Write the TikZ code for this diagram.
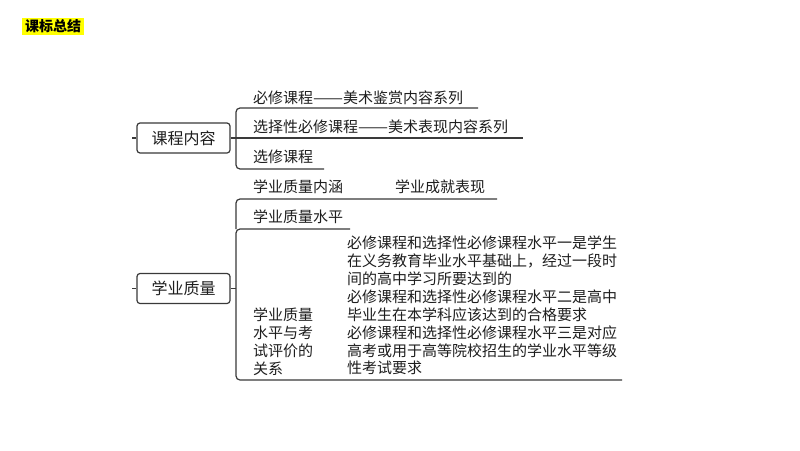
\documentclass[tikz,border=0pt]{standalone}
\usepackage{graphicx}
\usepackage{fontspec}
\setmainfont{Noto Sans CJK SC}
\definecolor{ink}{HTML}{1E1E1E}
\definecolor{linec}{HTML}{3A3A3A}
\definecolor{hl}{HTML}{FFFF00}
\newcommand{\wdash}{\resizebox{2em}{\height}{——}}
\begin{document}
\begin{tikzpicture}[x=1pt,y=-1pt,
  txt/.style={anchor=west,inner sep=0pt,font=\fontsize{15}{17.9}\selectfont,text=ink,align=left},
  rootbox/.style={draw=linec,line width=1.2pt,rounded corners=3pt,minimum width=93pt,minimum height=30pt,inner sep=0pt,font=\fontsize{16}{18}\selectfont,text=ink},
  conn/.style={draw=linec,line width=1.2pt,rounded corners=4pt}]
\useasboundingbox (0,0) rectangle (800,450);
\fill[white] (0,0) rectangle (800,450);
\node[fill=hl,inner xsep=3pt,inner ysep=1.5pt,anchor=west,text=black,font=\bfseries\fontsize{14}{16}\selectfont] (title) at (22,26.5) {课标总结};

% group 1
\node[rootbox] (r1) at (183.5,138) {课程内容};
\coordinate (s1) at (132,138);
\draw[conn] (s1) -- (r1.west);
\coordinate (a1) at (478,108);
\coordinate (a2) at (523,138);
\coordinate (a3) at (324,169);
\coordinate (j1t) at (236,108);
\coordinate (j1b) at (236,169);
\draw[conn] (a1) -- (j1t) -- (j1b) -- (a3);
\draw[conn] (r1.east) -- (a2);
\node[txt] (t1) at (253,98) {必修课程\wdash 美术鉴赏内容系列};
\node[txt] (t2) at (253,127) {选择性必修课程\wdash 美术表现内容系列};
\node[txt] (t3) at (253,157) {选修课程};

% group 2
\node[rootbox] (r2) at (183.5,288.5) {学业质量};
\coordinate (s2) at (132,288.5);
\draw[conn] (s2) -- (r2.west);
\coordinate (b1) at (497,199);
\coordinate (b2) at (350,229);
\coordinate (b3) at (622,380);
\coordinate (j2t) at (236,199);
\coordinate (j2m) at (236,229);
\coordinate (j2c) at (236,288.5);
\coordinate (j2b) at (236,380);
\draw[conn] (b1) -- (j2t) -- (j2m);
\draw[conn] (b2) -- (j2m) -- (j2b) -- (b3);
\draw[conn] (r2.east) -- (j2c);
\node[txt] (u1) at (253,187) {学业质量内涵};
\node[txt] (u1b) at (395,187) {学业成就表现};
\node[txt] (u2) at (253,217) {学业质量水平};
\node[txt] (u3) at (253,341.5) {学业质量\\水平与考\\试评价的\\关系};
\node[txt] (u4) at (347,305.5) {必修课程和选择性必修课程水平一是学生\\在义务教育毕业水平基础上，经过一段时\\间的高中学习所要达到的\\必修课程和选择性必修课程水平二是高中\\毕业生在本学科应该达到的合格要求\\必修课程和选择性必修课程水平三是对应\\高考或用于高等院校招生的学业水平等级\\性考试要求};
\end{tikzpicture}
\end{document}
